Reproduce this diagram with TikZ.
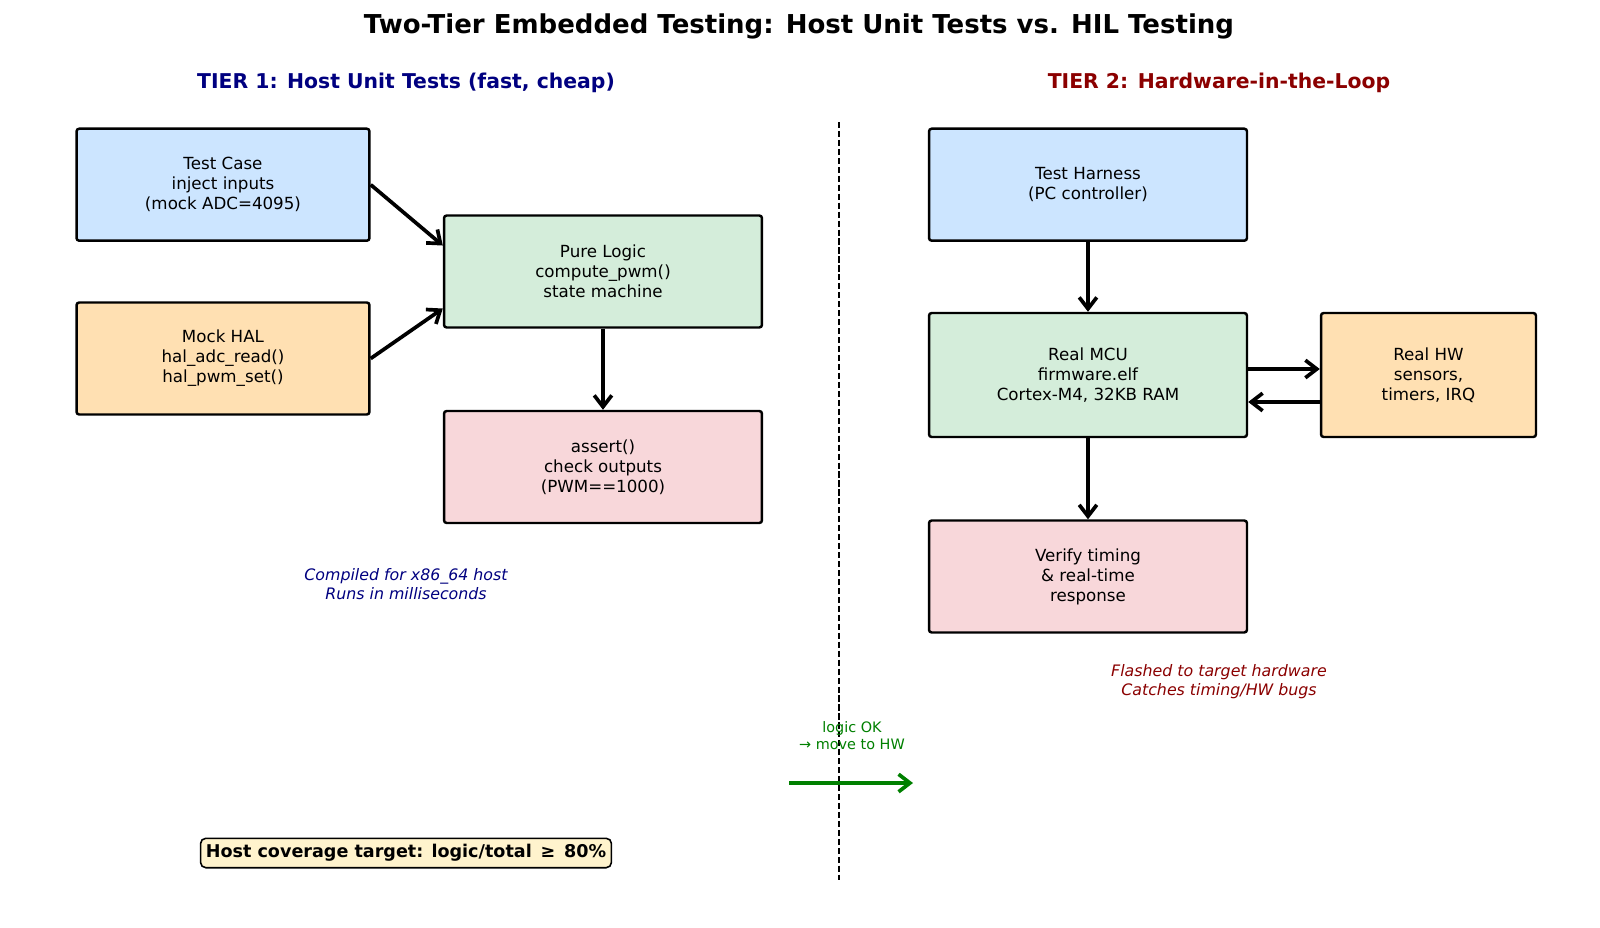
\documentclass[tikz,border=0pt]{standalone}
\usepackage{fontspec}
\setmainfont{DejaVu Sans}
\usetikzlibrary{arrows.meta,calc}
\definecolor{boxblue}{HTML}{CCE5FF}
\definecolor{boxgreen}{HTML}{D4EDDA}
\definecolor{boxorange}{HTML}{FFE0B2}
\definecolor{boxpink}{HTML}{F8D7DA}
\definecolor{notecream}{HTML}{FFF3CD}
\definecolor{navy}{HTML}{000080}
\definecolor{darkred}{HTML}{8B0000}
\definecolor{okgreen}{HTML}{008000}

\begin{document}
\begin{tikzpicture}[x=0.02cm,y=-0.02cm,font=\fontsize{9.5}{11.4}\selectfont,
  blk/.style={draw,line width=1.4pt,rounded corners=1.5pt,align=center,minimum width=6.36cm,minimum height=2.24cm,inner sep=2pt},
  flow/.style={-{Straight Barb[length=6.5pt,width=10pt]},line width=2.1pt},
  note/.style={align=center,font=\fontsize{9}{10.8}\selectfont\itshape}]
  \fill[white] (0,0) rectangle (1600,927);
  \useasboundingbox (0,0) rectangle (1600,927);
  \node[font=\fontsize{14.8}{17}\selectfont\bfseries] (title) at (799,26.5) {Two-Tier Embedded Testing: Host Unit Tests vs. HIL Testing};
  \node[navy,font=\fontsize{11.6}{13}\selectfont\bfseries] (tier1) at (406,83) {TIER 1: Host Unit Tests (fast, cheap)};
  \node[darkred,font=\fontsize{11.6}{13}\selectfont\bfseries] (tier2) at (1219,83) {TIER 2: Hardware-in-the-Loop};
  \draw[dash pattern=on 3.5pt off 1.6pt,line width=0.8pt] (839,122) -- (839,880);

  % tier 1
  \node[blk,fill=boxblue,minimum width=5.86cm] (case) at (223,184.7) {Test Case\\inject inputs\\(mock ADC=4095)};
  \node[blk,fill=boxorange,minimum width=5.86cm] (hal) at (223,358.5) {Mock HAL\\hal\_adc\_read()\\hal\_pwm\_set()};
  \node[blk,fill=boxgreen] (logic) at (603,271.5) {Pure Logic\\compute\_pwm()\\state machine};
  \node[blk,fill=boxpink] (check) at (603,467) {assert()\\check outputs\\(PWM==1000)};
  \draw[flow] (case.east) -- ($(logic.west)+(0,-26)$);
  \draw[flow] (hal.east) -- ($(logic.west)+(0,37)$);
  \draw[flow] (logic) -- (check);
  \node[note,navy] (hostnote) at (406,584) {Compiled for x86\_64 host\\Runs in milliseconds};

  % tier 2
  \node[blk,fill=boxblue] (harness) at (1088,184.7) {Test Harness\\(PC controller)};
  \node[blk,fill=boxgreen,minimum height=2.48cm] (mcu) at (1088,375) {Real MCU\\firmware.elf\\Cortex-M4, 32KB RAM};
  \node[blk,fill=boxorange,minimum width=4.3cm,minimum height=2.48cm] (hw) at (1428.5,375) {Real HW\\sensors,\\timers, IRQ};
  \node[blk,fill=boxpink] (verify) at (1088,576.5) {Verify timing\\\& real-time\\response};
  \draw[flow] (harness) -- (mcu);
  \draw[flow] (mcu) -- (verify);
  \draw[flow] ($(mcu.east)+(0,-6)$) -- ($(hw.west)+(0,-6)$);
  \draw[flow] ($(hw.west)+(0,27)$) -- ($(mcu.east)+(0,27)$);
  \node[note,darkred] (hilnote) at (1219,682) {Flashed to target hardware\\Catches timing/HW bugs};

  % hand-over
  \coordinate (go0) at (789,783);
  \coordinate (go1) at (913,783);
  \draw[flow,okgreen] (go0) -- (go1);
  \node[okgreen,align=center,font=\fontsize{8.2}{9.8}\selectfont] (gotext) at (852,736) {logic OK\\→ move to HW};

  \node[draw,fill=notecream,rounded corners=3pt,line width=0.9pt,font=\fontsize{10}{12}\selectfont\bfseries,inner xsep=3pt,inner ysep=3.5pt] (cover) at (406,853) {Host coverage target: logic/total\enspace≥\enspace80\%};
\end{tikzpicture}
\end{document}
